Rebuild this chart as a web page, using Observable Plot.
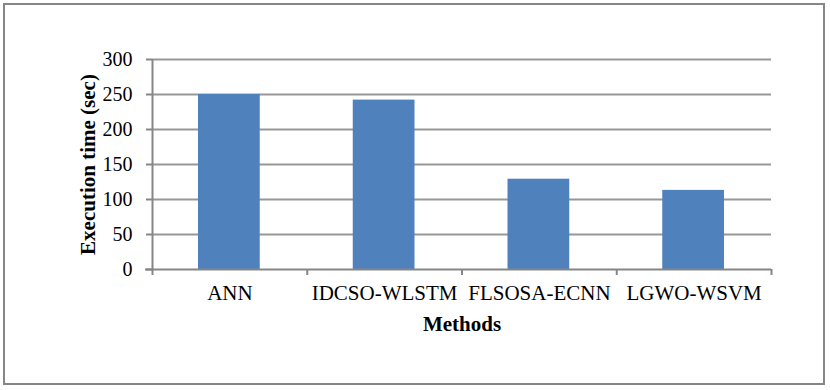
<!DOCTYPE html>
<html>
<head>
<meta charset="utf-8">
<script src="https://cdn.jsdelivr.net/npm/d3@7"></script>
<script src="https://cdn.jsdelivr.net/npm/@observablehq/plot@0.6"></script>
<style>
  html, body { margin: 0; padding: 0; background: #fff; }
  #chart { position: relative; width: 830px; height: 390px; }
</style>
</head>
<body>
<div id="chart"></div>
<script>
const methods = ["ANN", "IDCSO-WLSTM", "FLSOSA-ECNN", "LGWO-WSVM"];
const execTimes = [250, 242, 129, 113];
const yTicks = [0, 50, 100, 150, 200, 250, 300];
const xTitle = "Methods";
const yTitle = "Execution time (sec)";

const data = methods.map((m, i) => ({method: m, time: execTimes[i]}));

const W = 830, H = 390;
const mL = 152, mR = 59, mT = 59, mB = 121;
const bw = (W - mL - mR) / methods.length;
const font = "'Liberation Serif', 'Times New Roman', serif";
const gray = "#868686";

const plot = Plot.plot({
  width: W,
  height: H,
  marginLeft: mL,
  marginRight: mR,
  marginTop: mT,
  marginBottom: mB,
  style: {fontFamily: font, color: "#000", background: "#fff", overflow: "visible"},
  x: {type: "band", domain: methods, padding: 0, round: false, axis: null, label: null},
  y: {domain: [0, 300], ticks: yTicks, label: null},
  marks: [
    Plot.gridY(yTicks.filter(d => d > 0), {stroke: "#979797", strokeOpacity: 1, strokeWidth: 2}),
    Plot.barY(data, {x: "method", y: "time", fill: "#4F81BD", insetLeft: 46, insetRight: 47}),
    // axis lines
    Plot.ruleY([0], {stroke: gray, strokeWidth: 2, insetLeft: -7}),
    Plot.ruleX([methods[0]], {dx: -bw / 2, stroke: gray, strokeWidth: 2, insetBottom: -6}),
    // y ticks
    Plot.axisY({ticks: yTicks, tickSize: 6, text: null, stroke: gray, strokeWidth: 2}),
    Plot.axisY({ticks: yTicks, tickSize: 0, tickPadding: 20, fontSize: 20, fill: "#000", fontFamily: font}),
    // x ticks at category boundaries
    Plot.ruleX(methods.slice(1), {dx: -bw / 2, stroke: gray, strokeWidth: 2, insetTop: H - mT - mB, insetBottom: -6}),
    Plot.ruleX([methods[methods.length - 1]], {dx: bw / 2, stroke: gray, strokeWidth: 2, insetTop: H - mT - mB, insetBottom: -6}),
    // x category labels
    Plot.text(methods, {x: d => d, frameAnchor: "bottom", dy: 24, lineAnchor: "middle", fontSize: 21, fill: "#000", fontFamily: font}),
    // titles
    Plot.text([xTitle], {frameAnchor: "bottom", dy: 55, lineAnchor: "middle", fontSize: 21, fontWeight: "bold", fill: "#000", fontFamily: font}),
    Plot.text([yTitle], {frameAnchor: "left", textAnchor: "middle", dx: -64, rotate: -90, lineAnchor: "middle", fontSize: 21, fontWeight: "bold", fill: "#000", fontFamily: font})
  ]
});

d3.select(plot).insert("rect", ":first-child")
  .attr("x", 4).attr("y", 4).attr("width", 820).attr("height", 380)
  .attr("fill", "#fff").attr("stroke", gray).attr("stroke-width", 2);

document.getElementById("chart").appendChild(plot);
</script>
</body>
</html>
